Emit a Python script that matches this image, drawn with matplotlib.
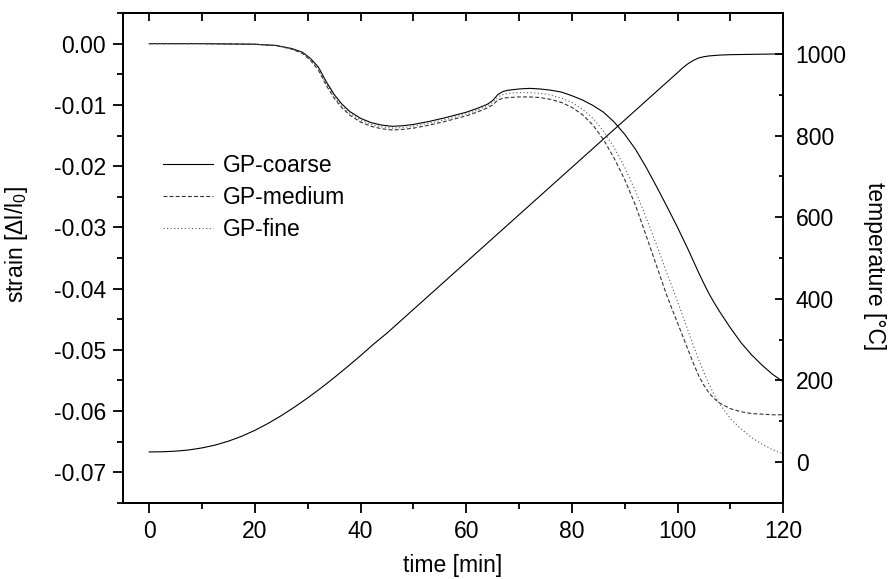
import matplotlib
matplotlib.use("Agg")
import matplotlib.pyplot as plt
from matplotlib.ticker import MultipleLocator, FormatStrFormatter

plt.rcParams['font.family'] = ['Liberation Sans', 'DejaVu Sans']
plt.rcParams['mathtext.fontset'] = 'custom'
plt.rcParams['mathtext.rm'] = 'Liberation Sans'
plt.rcParams['mathtext.it'] = 'Liberation Sans:italic'
plt.rcParams['font.size'] = 16.5

# strain curves (time in min, strain dl/l0)
t_strain = [0, 10, 20, 24, 27, 29, 30.5, 32, 33.5, 35, 36.5, 38, 40, 42, 44, 46, 48,
            50, 53, 56, 60, 62, 64, 65, 66, 67, 68, 70, 72, 74, 76, 78, 80, 82, 84,
            86, 88, 90, 92, 94, 96, 98, 100, 101, 102, 103, 104, 105, 106, 107, 108,
            110, 112, 114, 116, 118, 120]
coarse = [0, 0, -0.0001, -0.0003, -0.0008, -0.0014, -0.0024, -0.0038, -0.0062, -0.0083,
          -0.0099, -0.0111, -0.0122, -0.0129, -0.0133, -0.0135, -0.0134, -0.0132, -0.0127,
          -0.0121, -0.0112, -0.0106, -0.0099, -0.0093, -0.0083, -0.0078, -0.0076, -0.0074,
          -0.0073, -0.0074, -0.0076, -0.0079, -0.0085, -0.0092, -0.0101, -0.0112, -0.0128,
          -0.0148, -0.0172, -0.0201, -0.0233, -0.0266, -0.0300, -0.0318, -0.0336, -0.0355,
          -0.0374, -0.0392, -0.0409, -0.0424, -0.0438, -0.0464, -0.0488, -0.0508, -0.0525,
          -0.0540, -0.0552]
medium = [0, 0, -0.0001, -0.0003, -0.0009, -0.0016, -0.0027, -0.0043, -0.0068, -0.0089,
          -0.0105, -0.0117, -0.0128, -0.0135, -0.0139, -0.0141, -0.0140, -0.0138, -0.0133,
          -0.0127, -0.0118, -0.0112, -0.0105, -0.0100, -0.0092, -0.0089, -0.0088, -0.0087,
          -0.0087, -0.0088, -0.0091, -0.0096, -0.0104, -0.0116, -0.0133, -0.0157, -0.0187,
          -0.0222, -0.0263, -0.0312, -0.0362, -0.0412, -0.0456, -0.0478, -0.0500, -0.0522,
          -0.0542, -0.0558, -0.0571, -0.0580, -0.0587, -0.0596, -0.0601, -0.0604, -0.0605,
          -0.0606, -0.0606]
fine = [0, 0, -0.0001, -0.0003, -0.0009, -0.0015, -0.0025, -0.0040, -0.0065, -0.0086,
        -0.0102, -0.0114, -0.0125, -0.0132, -0.0136, -0.0138, -0.0137, -0.0135, -0.0130,
        -0.0124, -0.0115, -0.0109, -0.0102, -0.0096, -0.0087, -0.0083, -0.0081, -0.0080,
        -0.0080, -0.0081, -0.0084, -0.0089, -0.0096, -0.0107, -0.0122, -0.0143, -0.0170,
        -0.0202, -0.0240, -0.0283, -0.0328, -0.0375, -0.0421, -0.0445, -0.0469, -0.0493,
        -0.0516, -0.0537, -0.0557, -0.0574, -0.0589, -0.0612, -0.0629, -0.0643, -0.0654,
        -0.0663, -0.0670]

# temperature program
t_temp = [0, 2.5, 5, 7.5, 10, 12.5, 15, 17.5, 20, 22.5, 25, 27.5, 30, 32.5, 35, 37.5,
          40, 42.5, 45, 50, 55, 60, 70, 80, 90, 100, 101, 102, 103, 104, 105, 106, 108,
          110, 115, 120]
temp = [25, 25.4, 26.9, 29.9, 34.9, 41.9, 51.4, 63.4, 77.9, 94.9, 113.9, 134.9, 157.4,
        181.4, 206.9, 233.4, 260.9, 289.4, 316, 374, 432, 490, 606, 722, 838, 954, 966,
        976, 984, 990, 993, 995, 997, 998, 999, 1000]

fig = plt.figure(figsize=(8.9, 5.79), dpi=100)
ax = fig.add_axes([0.138, 0.1313, 0.742, 0.8462])

ax.plot(t_strain, coarse, color='black', lw=0.8, label='GP-coarse')
ax.plot(t_strain, medium, color='#333333', lw=0.8, dashes=(3.5, 2), label='GP-medium')
ax.plot(t_strain, fine, color='#555555', lw=0.8, dashes=(1, 2.2), label='GP-fine')

ax.set_xlim(-5, 120)
ax.set_ylim(-0.075, 0.005)
ax.xaxis.set_major_locator(MultipleLocator(20))
ax.xaxis.set_minor_locator(MultipleLocator(10))
ax.yaxis.set_major_locator(MultipleLocator(0.01))
ax.yaxis.set_minor_locator(MultipleLocator(0.005))
ax.yaxis.set_major_formatter(FormatStrFormatter('%.2f'))
ax.tick_params(which='major', direction='out', length=7, width=1.3, pad=5)
ax.tick_params(which='minor', direction='out', length=4.5, width=1.3)
ax.tick_params(top=False, right=False, which='both')
for s in ax.spines.values():
    s.set_linewidth(1.3)

ax.set_xlabel('time [min]')
ax.set_ylabel('strain [Δl/l$_0$]')
ax.xaxis.set_label_coords(0.5, -0.104)
ax.yaxis.set_label_coords(-0.141, 0.527)

# top ticks drawn inward on a secondary x-axis
top = ax.secondary_xaxis('top')
top.xaxis.set_major_locator(MultipleLocator(10))
top.tick_params(direction='in', length=6, width=1.3, labeltop=False)
top.spines['top'].set_linewidth(1.3)

ax2 = ax.twinx()
ax2.plot(t_temp, temp, color='black', lw=0.8)
ax2.set_ylim(-100, 1100)
ax2.yaxis.set_major_locator(MultipleLocator(200))
ax2.yaxis.set_minor_locator(MultipleLocator(100))
ax2.tick_params(which='major', direction='in', length=6, width=1.3, pad=9)
ax2.tick_params(which='minor', direction='in', length=3, width=1.3)
for s in ax2.spines.values():
    s.set_linewidth(1.3)
ax2.set_ylabel('temperature [°C]', rotation=270)
ax2.yaxis.set_label_coords(1.156, 0.484)

ax.legend(loc='upper left', bbox_to_anchor=(0.0606, 0.712), frameon=False,
          borderpad=0, borderaxespad=0, handlelength=2.2, handletextpad=0.4,
          labelspacing=0.4)

fig.savefig('out.png', dpi=100)
